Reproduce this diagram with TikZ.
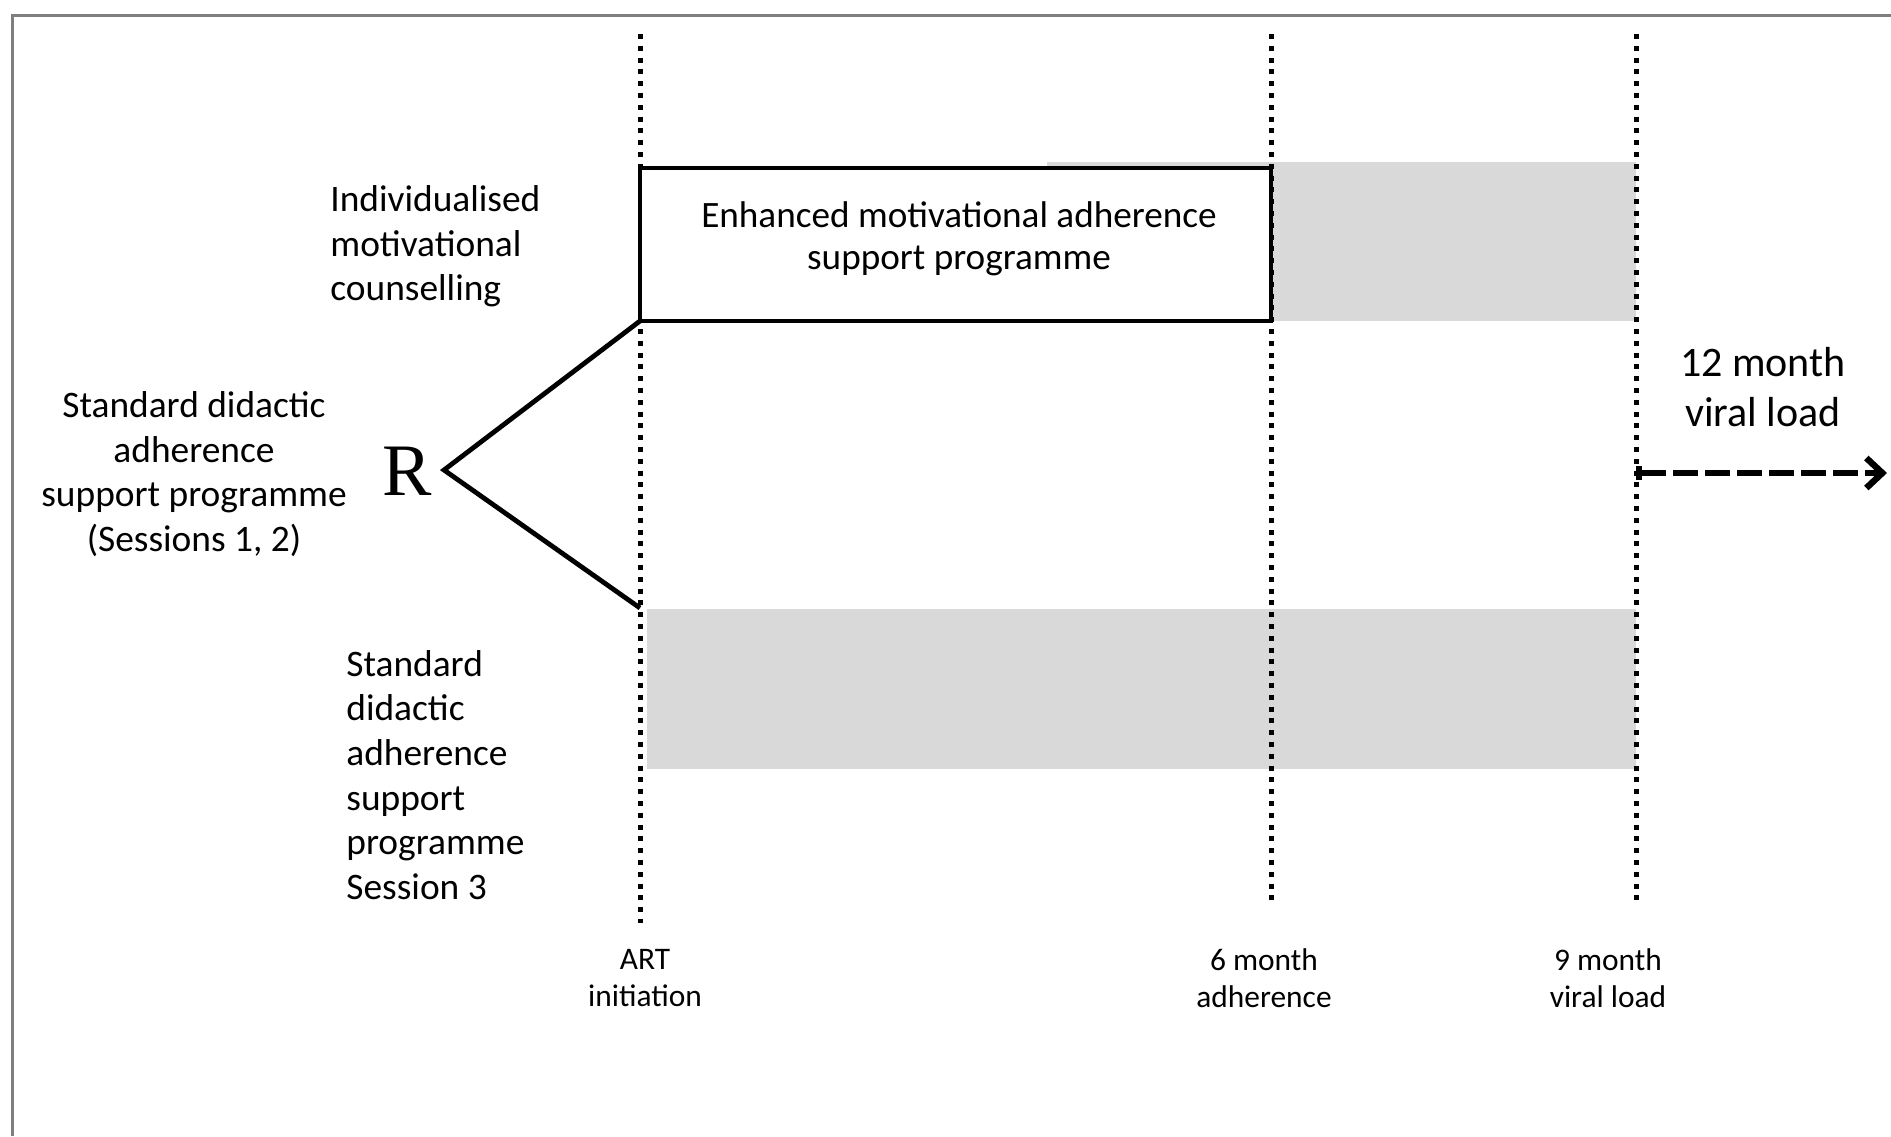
\documentclass[tikz,border=0pt]{standalone}
\usepackage{fontspec}
\setmainfont{Carlito}
\newfontfamily\rfont{Liberation Serif}
\usetikzlibrary{arrows.meta}
\definecolor{shade}{HTML}{D9D9D9}
\definecolor{framegray}{HTML}{7F7F7F}
\tikzset{
  timeline/.style={line width=2.5pt, dash pattern=on 2.5pt off 3.4pt},
  heavy/.style={line width=2.4pt},
  lbl/.style={inner sep=0pt, font=\fontsize{18.7pt}{22.3pt}\selectfont},
  smalllbl/.style={inner sep=0pt, align=center, font=\fontsize{15.7pt}{18.5pt}\selectfont},
  band/.style={fill=shade, draw=none, inner sep=0pt, outer sep=0pt, anchor=north west},
}
\begin{document}
\begin{tikzpicture}[x=0.5pt,y=-0.5pt]
\useasboundingbox (0,0) rectangle (1891,1136);
\fill[white] (0,0) rectangle (1891,1136);
\draw[framegray, line width=1.5pt] (1891,15) -- (12,15) -- (12,1136);

% shaded bands
\node[band, minimum width=294.5pt, minimum height=79.5pt] (topband) at (1047,162) {};
\node[band, minimum width=494.5pt, minimum height=80pt] (lowband) at (647,609) {};

% time lines
\coordinate (t1) at (640,34);  \coordinate (b1) at (640,923);
\coordinate (t2) at (1271,34); \coordinate (b2) at (1271,901);
\coordinate (t3) at (1636,34); \coordinate (b3) at (1636,901);
\draw[timeline] (t1) -- (b1);
\draw[timeline] (t2) -- (b2);
\draw[timeline] (t3) -- (b3);

% enhanced box
\node[draw, heavy, fill=white, anchor=north west, inner sep=0pt, outer sep=0pt,
      minimum width=315.5pt, minimum height=76.5pt] (box) at (640,168) {};
\node[lbl, align=center, font=\fontsize{18.6pt}{21pt}\selectfont] (enh) at (959,238.5)
  {Enhanced motivational adherence\\support programme};

% randomisation
\node[inner sep=0pt, font=\rfont\fontsize{37pt}{37pt}\selectfont] (R) at (407,471) {R};
\coordinate (apex) at (444,470);
\coordinate (lowend) at (640,608);
\draw[heavy] (box.south west) -- (apex) -- (lowend);

% 12 month arrow
\coordinate (vlstart) at (1636,473);
\coordinate (vltip) at (1887,473);
\draw[line width=3.2pt, dash pattern=on 12.5pt off 3.5pt,
      {Bar[width=7pt]}-{Straight Barb[length=8pt,width=15pt]}] (vlstart) -- (vltip);

% labels
\node[lbl, anchor=west, align=left] (imc) at (330,246.5)
  {Individualised\\motivational\\counselling};
\node[lbl, align=center] (sdasp) at (194,474)
  {Standard didactic\\adherence\\support programme\\(Sessions 1, 2)};
\node[lbl, anchor=west, align=left] (s3) at (346,775)
  {Standard\\didactic\\adherence\\support\\programme\\Session 3};
\node[inner sep=0pt, align=center, font=\fontsize{21pt}{25pt}\selectfont] (vl12lbl) at (1763,387)
  {12 month\\viral load};
\node[smalllbl] (art) at (645,978.5) {ART\\initiation};
\node[smalllbl] (m6) at (1264,978.5) {6 month\\adherence};
\node[smalllbl] (m9) at (1608,978.5) {9 month\\viral load};
\end{tikzpicture}
\end{document}
